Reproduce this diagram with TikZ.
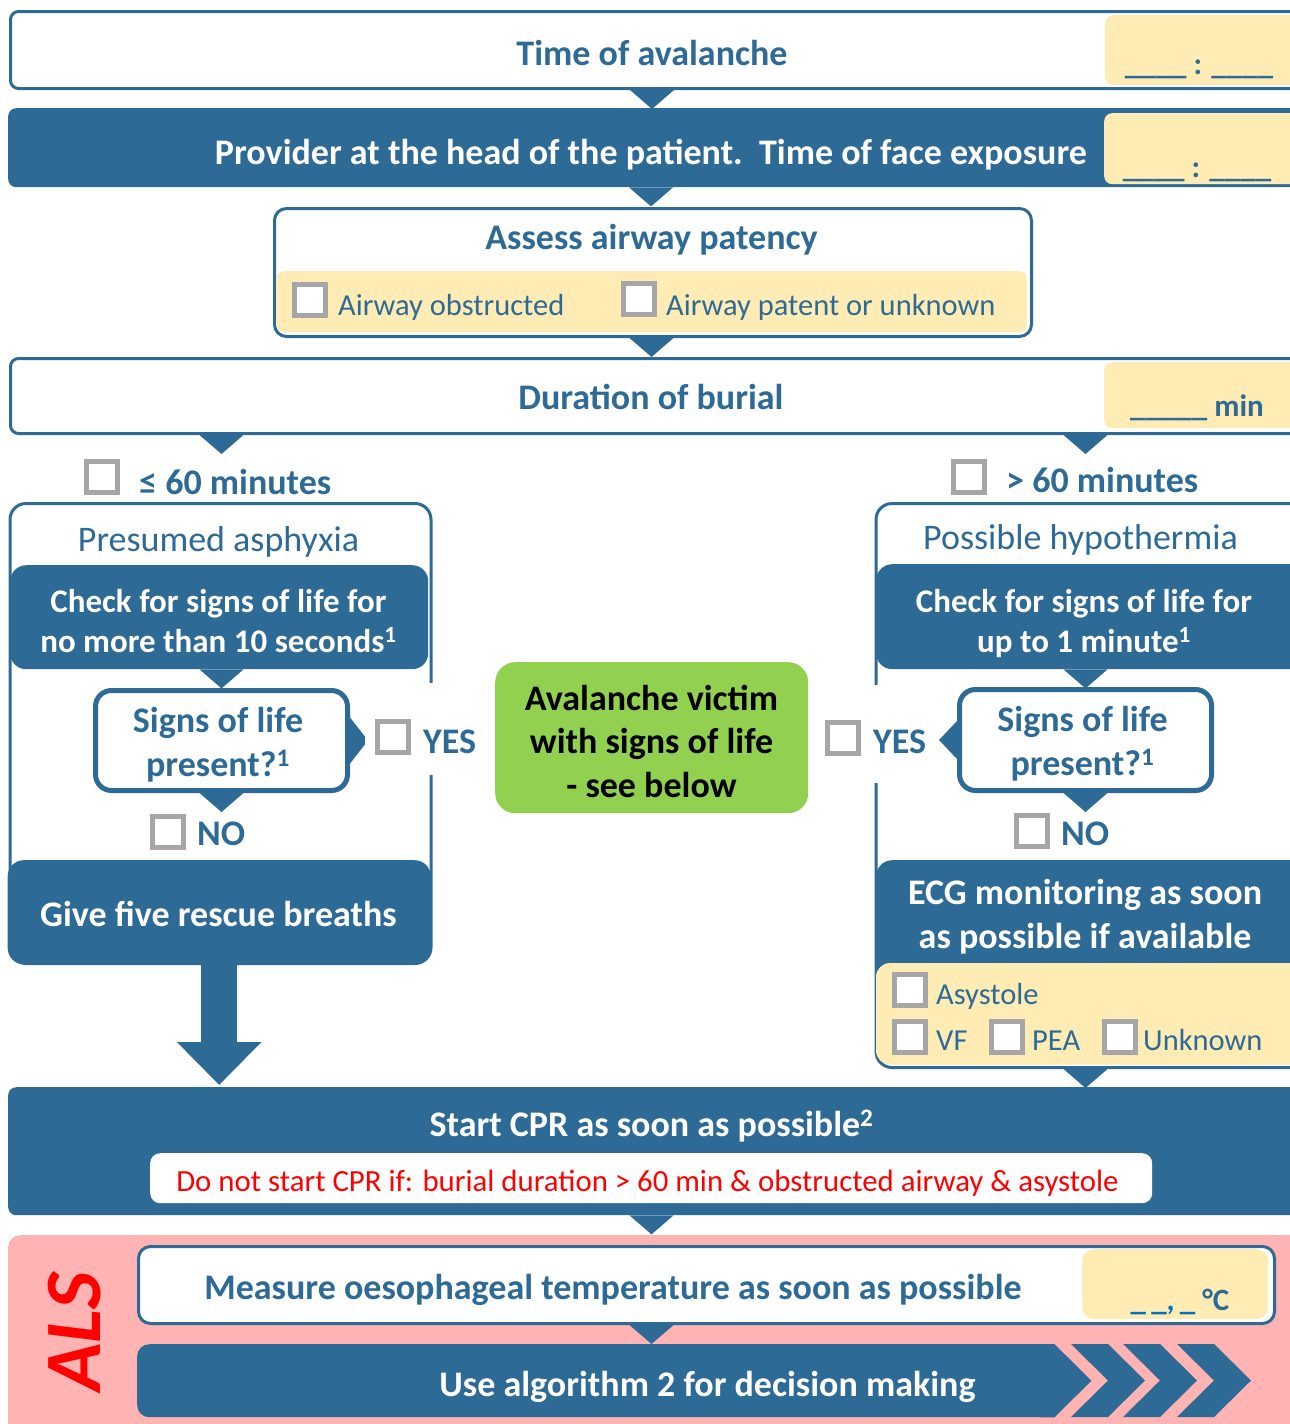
\documentclass[tikz,border=0pt]{standalone}
\usepackage{fontspec}
\setmainfont{Carlito}
\usetikzlibrary{arrows.meta, calc, positioning}
\definecolor{avblue}{RGB}{46,106,150}
\definecolor{avblue2}{RGB}{0,112,192}
\definecolor{avyellow}{RGB}{255,235,180}
\definecolor{avgreen}{RGB}{146,208,80}
\definecolor{avpink}{RGB}{255,179,179}
\definecolor{avgray}{RGB}{166,166,166}
\newcommand{\fbold}{\fontsize{36}{43.5}\selectfont\bfseries}
\newcommand{\fmid}{\fontsize{33}{40}\selectfont\bfseries}
\newcommand{\freg}{\fontsize{36}{43}\selectfont}
\newcommand{\fsmall}{\fontsize{30.5}{36}\selectfont}
\newcommand{\fred}{\fontsize{30.8}{36}\selectfont}
\newcommand{\ffield}{\fontsize{31}{36}\selectfont\bfseries}
\newcommand{\fals}{\fontsize{80}{90}\selectfont\bfseries\itshape}
\newcommand{\tri}[1]{\fill[avblue] ($(#1)+(-22,0)$) -- ($(#1)+(22,0)$) -- ($(#1)+(0,19)$) -- cycle;}

\begin{document}
\begin{tikzpicture}[x=1pt, y=-1pt, >=Stealth,
    whitebox/.style={draw=avblue, line width=3pt, fill=white, rounded corners=8pt, inner sep=0pt, anchor=north west},
    sigbox/.style={draw=avblue, line width=5pt, fill=white, rounded corners=16pt, inner sep=0pt, anchor=north west},
    bluebox/.style={fill=avblue, rounded corners=16pt, inner sep=0pt, anchor=north west},
    fieldbox/.style={fill=avyellow, rounded corners=8pt, inner sep=0pt, anchor=north west},
    chk/.style={draw=avgray, line width=4.5pt, fill=white, minimum size=31pt, inner sep=0pt},
    btxt/.style={font=\fbold, text=avblue, anchor=base, inner sep=0pt},
    wtxt/.style={font=\fbold, text=white, anchor=base, inner sep=0pt},
    rtxt/.style={font=\freg, text=avblue, anchor=base, inner sep=0pt},
    ctxt/.style={font=\fsmall, text=avblue, anchor=base west, inner sep=0pt},
    ftxt/.style={font=\ffield, text=avblue, anchor=base, inner sep=0pt},
    sup/.style={}]
    \useasboundingbox (0,0) rectangle (1290,1424);

    % Time of avalanche
    \node[whitebox, minimum width=1300, minimum height=77] (avl) at (9,10) {};
    \node[fieldbox, minimum width=200, minimum height=70] (avlf) at (1105,15) {};
    \node[btxt] (avlt) at (652,65) {Time of avalanche};
    \node[ftxt] (avlv) at (1199,74) {\_\_\_\_ : \_\_\_\_};
    \tri{avlt |- avl.south}

    % Face exposure
    \node[bluebox, rounded corners=8pt, minimum width=1300, minimum height=79] (prov) at (8,108) {};
    \node[fieldbox, minimum width=200, minimum height=71] (provf) at (1104,113) {};
    \node[wtxt] (provt) at (651,164) {Provider at the head of the patient.\ \ Time of face exposure};
    \node[ftxt] (provv) at (1197,177) {\_\_\_\_ : \_\_\_\_};
    \tri{provt |- prov.south}

    % Airway
    \node[whitebox, rounded corners=12pt, minimum width=757, minimum height=128] (asw) at (273,207) {};
    \node[fieldbox, minimum width=751, minimum height=61] (aswf) at (276,271) {};
    \node[btxt] (aswt) at (651.5,249) {Assess airway patency};
    \node[chk] (ck1) at (310,300) {};
    \node[ctxt] (ck1t) at (338,315) {Airway obstructed};
    \node[chk] (ck2) at (639,299) {};
    \node[ctxt] (ck2t) at (666,315) {Airway patent or unknown};
    \tri{aswt |- asw.south}

    % Duration of burial
    \node[whitebox, minimum width=1300, minimum height=75] (dur) at (9,357) {};
    \node[fieldbox, minimum width=200, minimum height=66] (durf) at (1104,362) {};
    \node[btxt] (durt) at (651,409) {Duration of burial};
    \node[ftxt] (durv) at (1197,416) {\_\_\_\_\_ min};

    % Short burial
    \node[chk] (cks) at (102,477) {};
    \node[btxt, anchor=base west] (ckst) at (139,494) {≤ 60 minutes};
    \node[whitebox, rounded corners=16pt, minimum width=421, minimum height=460] (grpl) at (8.5,502) {};
    \node[rtxt] (grplt) at (218.5,551) {Presumed asphyxia};
    \node[bluebox, minimum width=418, minimum height=104] (chkl) at (10,565) {};
    \node[wtxt, font=\fmid, align=center] (chklt) at (218.5,652) {Check for signs of life for\\no more than 10 seconds\textsuperscript{1}};
    \node[sigbox, minimum width=252, minimum height=100] (sigl) at (93,688) {};
    \node[btxt, align=center] (siglt) at (218,776) {Signs of life\\present?\textsuperscript{1}};
    \tri{sigl |- chkl.south}
    \fill[avblue] ($(sigl.east)+(0,-23)$) -- ($(sigl.east)+(18,0)$) -- ($(sigl.east)+(0,23)$) -- cycle;
    \node[fill=white, inner sep=0pt, minimum width=120, minimum height=92] (yesl) at (425,729) {};
    \node[chk] (ckyl) at (393,737) {};
    \node[btxt, anchor=base west] (yeslt) at (423,753) {YES};
    \tri{sigl.south}
    \node[chk] (cknl) at (168,832) {};
    \node[btxt, anchor=base west] (nolt) at (197,845) {NO};
    \node[bluebox, minimum width=423, minimum height=104] (brl) at (7.5,860) {};
    \node[wtxt] (brlt) at (218.5,926) {Give five rescue breaths};

    % Signs of life
    \node[fill=avgreen, rounded corners=20pt, minimum width=313, minimum height=151, inner sep=0pt, anchor=north west] (vic) at (495,662) {};
    \node[font=\fbold, align=center, anchor=base, inner sep=0pt] (vict) at (651.5,797) {Avalanche victim\\with signs of life\\- see below};

    % Long burial
    \node[chk] (ckl) at (969,477) {};
    \node[btxt, anchor=base west] (cklt) at (1006,492) {> 60 minutes};
    \node[whitebox, rounded corners=16pt, minimum width=430, minimum height=564] (grpr) at (874.5,502) {};
    \node[rtxt] (grprt) at (1080.5,549) {Possible hypothermia};
    \node[bluebox, minimum width=430, minimum height=105] (chkr) at (876,564) {};
    \node[wtxt, font=\fmid, align=center] (chkrt) at (1084,652) {Check for signs of life for\\up to 1 minute\textsuperscript{1}};
    \node[sigbox, minimum width=252, minimum height=101] (sigr) at (957,687) {};
    \node[btxt, align=center] (sigrt) at (1082.5,775) {Signs of life\\present?\textsuperscript{1}};
    \tri{sigr |- chkr.south}
    \fill[avblue] ($(sigr.west)+(0,-19)$) -- ($(sigr.west)+(-18,0)$) -- ($(sigr.west)+(0,19)$) -- cycle;
    \node[fill=white, inner sep=0pt, minimum width=110, minimum height=98] (yesr) at (870,734) {};
    \node[chk] (ckyr) at (843,738) {};
    \node[btxt, anchor=base west] (yesrt) at (873,753) {YES};
    \tri{sigr.south}
    \node[chk] (cknr) at (1032,831) {};
    \node[btxt, anchor=base west] (nort) at (1061,845) {NO};
    \node[bluebox, minimum width=430, minimum height=125] (ecg) at (876,860) {};
    \fill[avyellow] (876,963) [rounded corners=14pt] -- (876,1064.5) -- (1305,1064.5) -- (1305,963) -- cycle;
    \node[wtxt, align=center] (ecgt) at (1085,948) {ECG monitoring as soon\\as possible if available};
    \node[chk] (cka) at (910,990) {};
    \node[ctxt] (ckat) at (936,1004) {Asystole};
    \node[chk] (ckv) at (910,1037) {};
    \node[ctxt] (ckvt) at (936,1050) {VF};
    \node[chk] (ckp) at (1007,1037) {};
    \node[ctxt] (ckpt) at (1032,1050) {PEA};
    \node[chk] (cku) at (1120,1037) {};
    \node[ctxt] (ckut) at (1143,1050) {Unknown};
    \tri{sigr |- dur.south}
    \tri{sigl |- dur.south}

    % CPR
    \node[bluebox, rounded corners=8pt, minimum width=1300, minimum height=128] (cpr) at (8,1087) {};
    \node[wtxt] (cprt) at (651.5,1136) {Start CPR as soon as possible\textsuperscript{2}};
    \node[fill=white, rounded corners=10pt, minimum width=1002, minimum height=50, inner sep=0pt, anchor=north west] (nocpr) at (150,1153) {};
    \node[font=\fred, text=red, anchor=base, inner sep=0pt] (nocprt) at (647.5,1191) {Do not start CPR if: burial duration > 60 min \& obstructed airway \& asystole};
    \tri{sigr |- grpr.south}
    \draw[avblue, line width=36pt, -{Triangle[width=82pt, length=43pt]}, shorten >=2pt] (brl.south) -- (brl.south |- cpr.north);
    \tri{cprt |- cpr.south}

    % ALS
    \node[fill=avpink, rounded corners=12pt, minimum width=1300, minimum height=200, inner sep=0pt, anchor=north west] (als) at (8,1235) {};
    \node[text=red, font=\fals, rotate=90, inner sep=0pt] (alst) at (75,1332) {ALS};
    \node[whitebox, rounded corners=12pt, minimum width=1136, minimum height=77] (meas) at (137,1245) {};
    \node[fieldbox, rounded corners=12pt, minimum width=186, minimum height=70] (measf) at (1082,1249) {};
    \node[btxt] (meast) at (613,1299) {Measure oesophageal temperature as soon as possible};
    \node[ftxt] (measv) at (1180,1310) {{\color{avblue2}\_\,\_,\,\_}\ °C};
    \tri{cprt |- meas.south}
    \node[fill=avblue, rounded corners=12pt, minimum width=917, minimum height=73, inner sep=0pt, anchor=north west] (alg) at (137,1344) {};
    \fill[avblue] ($(alg.north east)+(-14,0)$) -- (alg.north east) -- ($(alg.east)+(37,0)$) -- (alg.south east) -- ($(alg.south east)+(-14,0)$) -- cycle;
    \foreach \cx in {1071,1123,1177}
        \fill[avblue] (\cx,1344) -- (\cx+37,1344) -- (\cx+74,1380.5) -- (\cx+37,1417) -- (\cx,1417) -- (\cx+37,1380.5) -- cycle;
    \node[wtxt] (algt) at (707.5,1396) {Use algorithm 2 for decision making};
\end{tikzpicture}
\end{document}
